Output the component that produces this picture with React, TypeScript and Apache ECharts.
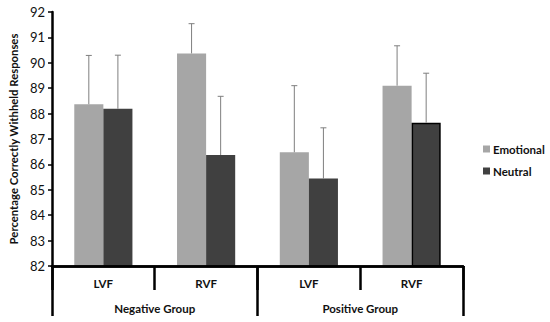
import React, { useEffect, useRef } from "react";
import * as echarts from "echarts";

const categories = ["LVF", "RVF", "LVF", "RVF"];
const groups = ["Negative Group", "Positive Group"];
const emotional = [88.37, 90.37, 86.48, 89.1];
const emotionalUpper = [90.29, 91.54, 89.1, 90.67];
const neutral = [88.19, 86.37, 85.44, 87.64];
const neutralUpper = [90.3, 88.68, 87.44, 89.59];
const yTicks = { min: 82, max: 92, interval: 1 };

const FONT = "Lato, 'Open Sans', sans-serif";
const BAR_FRAC = 0.283;

function errorSeries(name: string, values: number[], uppers: number[], dir: number) {
  return {
    type: "custom",
    name: name + " error",
    xAxisIndex: 0,
    z: 5,
    silent: true,
    data: values.map((v, i) => [i, v, uppers[i]]),
    encode: { x: 0, y: [1, 2] },
    renderItem: (params: any, api: any) => {
      const i = api.value(0);
      const base = api.coord([i, api.value(1)]);
      const top = api.coord([i, api.value(2)]);
      const band = api.size([1, 0])[0];
      const x = base[0] + (dir * band * BAR_FRAC) / 2;
      const style = { stroke: "#7f7f7f", lineWidth: 1 };
      return {
        type: "group",
        children: [
          { type: "line", shape: { x1: x, y1: base[1], x2: x, y2: top[1] }, style },
          { type: "line", shape: { x1: x - 3, y1: top[1], x2: x + 3, y2: top[1] }, style },
        ],
      };
    },
  };
}

export default function App() {
  const ref = useRef<HTMLDivElement>(null);
  useEffect(() => {
    const chart = echarts.init(ref.current!, null, { renderer: "svg" });
    chart.setOption({
      animation: false,
      textStyle: { fontFamily: FONT },
      grid: { left: 45, top: 12, right: 87, bottom: 56 },
      legend: {
        orient: "vertical",
        left: 478,
        top: 138,
        itemWidth: 7,
        itemHeight: 7,
        itemGap: 10,
        icon: "rect",
        textStyle: { fontFamily: FONT, fontWeight: "bold", fontSize: 11.5, color: "#111", padding: [0, 0, 0, -2] },
        data: ["Emotional", "Neutral"],
      },
      xAxis: [
        {
          type: "category",
          data: categories,
          position: "bottom",
          axisLine: { show: true, onZero: false, lineStyle: { color: "#000", width: 2.5 } },
          axisTick: { show: true, length: 24, lineStyle: { color: "#000", width: 2.5 } },
          axisLabel: { margin: 11, fontWeight: "bold", fontSize: 11.5, color: "#111", fontFamily: FONT },
          z: 10,
        },
        {
          type: "category",
          data: groups,
          position: "bottom",
          axisLine: { show: true, onZero: false, lineStyle: { color: "#000", width: 2.5 } },
          axisTick: { show: true, length: 50, lineStyle: { color: "#000", width: 2.5 } },
          axisLabel: { margin: 36, fontWeight: "bold", fontSize: 11.5, color: "#111", fontFamily: FONT },
          z: 10,
        },
      ],
      yAxis: {
        type: "value",
        min: yTicks.min,
        max: yTicks.max,
        interval: yTicks.interval,
        name: "Percentage Correctly Withheld Responses",
        nameLocation: "middle",
        nameRotate: 90,
        nameGap: 28,
        nameTextStyle: { fontWeight: "bold", fontSize: 11.3, color: "#111", fontFamily: FONT },
        axisLine: { show: true, onZero: false, lineStyle: { color: "#000", width: 2.5 } },
        axisTick: { show: true, length: 4, lineStyle: { color: "#000", width: 1.5 } },
        axisLabel: { margin: 7, fontSize: 13, color: "#111", fontFamily: FONT },
        splitLine: { show: false },
        z: 10,
      },
      series: [
        {
          type: "bar",
          name: "Emotional",
          xAxisIndex: 0,
          data: emotional,
          barWidth: BAR_FRAC * 100 + "%",
          barGap: "0%",
          itemStyle: { color: "#a6a6a6" },
        },
        {
          type: "bar",
          name: "Neutral",
          xAxisIndex: 0,
          data: neutral.map((v, i) =>
            i === 3
              ? { value: v, itemStyle: { color: "#404040", borderColor: "#000", borderWidth: 1.5 } }
              : v
          ),
          barWidth: BAR_FRAC * 100 + "%",
          barGap: "0%",
          itemStyle: { color: "#404040" },
        },
        errorSeries("Emotional", emotional, emotionalUpper, -1),
        errorSeries("Neutral", neutral, neutralUpper, 1),
      ],
    });
    return () => chart.dispose();
  }, []);
  return <div ref={ref} style={{ width: 550, height: 322, position: "absolute", left: 0, top: 0 }} />;
}
